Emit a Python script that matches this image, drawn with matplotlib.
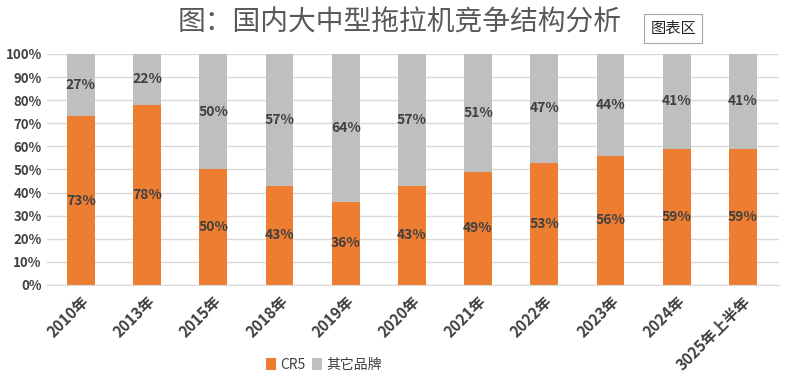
import matplotlib
matplotlib.use("Agg")
import matplotlib.pyplot as plt
from matplotlib.patches import FancyBboxPatch

plt.rcParams["font.family"] = ["Noto Sans CJK SC", "DejaVu Sans"]

years = ["2010年", "2013年", "2015年", "2018年", "2019年", "2020年",
         "2021年", "2022年", "2023年", "2024年", "3025年上半年"]
cr5 = [73, 78, 50, 43, 36, 43, 49, 53, 56, 59, 59]
others = [27, 22, 50, 57, 64, 57, 51, 47, 44, 41, 41]

orange = "#ED7D31"
gray = "#BFBFBF"
text_color = "#404040"

fig = plt.figure(figsize=(8, 3.8), dpi=100)
ax = fig.add_axes([0.059, 0.25, 0.915, 0.608])

x = range(len(years))
w = 0.42
ax.bar(x, cr5, width=w, color=orange, label="CR5", zorder=2)
ax.bar(x, others, width=w, bottom=cr5, color=gray, label="其它品牌", zorder=2)

for i in x:
    ax.text(i, cr5[i] / 2, f"{cr5[i]}%", ha="center", va="center",
            fontsize=10, fontweight="bold", color=text_color, zorder=3)
    ax.text(i, cr5[i] + others[i] / 2, f"{others[i]}%", ha="center", va="center",
            fontsize=10, fontweight="bold", color=text_color, zorder=3)

ax.set_xlim(-0.51, len(years) - 0.45)
ax.set_ylim(0, 100)
ax.set_yticks(range(0, 101, 10))
ax.set_yticklabels([f"{v}%" for v in range(0, 101, 10)], fontsize=9.5,
                   fontweight="bold", color=text_color)
ax.set_xticks(list(x))
ax.set_xticklabels(years, rotation=45, ha="right", rotation_mode="anchor",
                   fontsize=11, fontweight="bold", color=text_color)
ax.tick_params(length=0, pad=4)
ax.tick_params(axis="x", pad=6)
ax.grid(axis="y", color="#D9D9D9", linewidth=1, zorder=0)
for side in ["top", "right", "left"]:
    ax.spines[side].set_visible(False)
ax.spines["bottom"].set_color("#D9D9D9")

fig.text(0.5, 0.94, "图：国内大中型拖拉机竞争结构分析", ha="center", va="center",
         fontsize=20, color="#595959")

# "图表区" tooltip box
fig.patches.append(FancyBboxPatch((0.805, 0.888), 0.073, 0.076,
                                  boxstyle="square,pad=0", transform=fig.transFigure,
                                  facecolor="white", edgecolor="#A6A6A6",
                                  linewidth=0.8))
fig.text(0.842, 0.926, "图表区", ha="center", va="center", fontsize=11,
         color="#262626")

fig.legend(loc="center", bbox_to_anchor=(0.405, 0.04), ncol=2, frameon=False,
           fontsize=10, handlelength=0.7, handleheight=0.9, handletextpad=0.3,
           columnspacing=0.5, labelcolor=text_color)

fig.savefig("out.png")
